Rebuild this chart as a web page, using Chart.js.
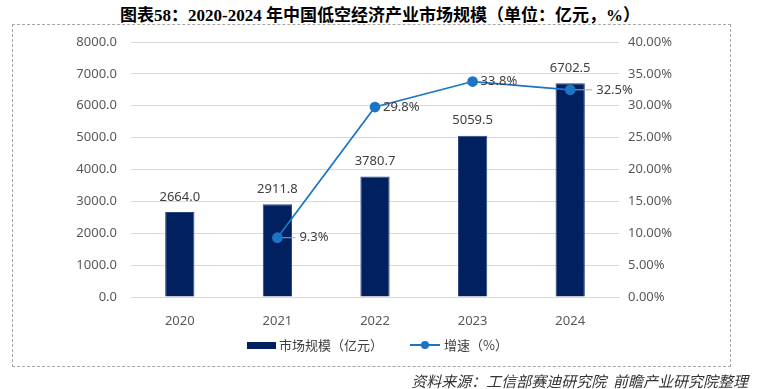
<!DOCTYPE html>
<html>
<head>
<meta charset="utf-8">
<script src="https://cdn.jsdelivr.net/npm/chart.js@4"></script>
<style>
  body { margin: 0; background: #fff; }
  #wrap { position: relative; width: 760px; height: 389px; overflow: hidden; }
  #title { position: absolute; left: 0; top: 1px; width: 760px; text-align: center;
    font: bold 17px "Liberation Serif", "Noto Sans CJK SC", serif; color: #000; }
  #frame { position: absolute; left: 12px; top: 24px; width: 719px; height: 343px;
    border: 1px dashed #a6a6a6; box-sizing: border-box; }
  #source { position: absolute; right: 12px; top: 370px;
    font: italic 15px "Noto Sans CJK SC", sans-serif; color: #333; }
  canvas { position: absolute; left: 0; top: 0; }
</style>
</head>
<body>
<div id="wrap">
  <div id="title">图表58：2020-2024 年中国低空经济产业市场规模（单位：亿元，%）</div>
  <div id="frame"></div>
  <canvas id="chart" width="760" height="389"></canvas>
  <div id="source">资料来源：工信部赛迪研究院&nbsp; 前瞻产业研究院整理</div>
</div>
<script>
const years = ["2020", "2021", "2022", "2023", "2024"];
const marketSize = [2664.0, 2911.8, 3780.7, 5059.5, 6702.5];
const growth = [null, 9.3, 29.8, 33.8, 32.5];
const leftTicks = [0, 1000, 2000, 3000, 4000, 5000, 6000, 7000, 8000];
const rightTicks = [0, 5, 10, 15, 20, 25, 30, 35, 40];

const barColor = "#002060";
const lineColor = "#1b75c4";
const tickFont = { family: "'Noto Sans', 'Noto Sans CJK SC', sans-serif", size: 13 };
const growthLabelDx = [0, 22, 8, 8, 26];

const labelPlugin = {
  id: "labels",
  afterDatasetsDraw(chart) {
    const ctx = chart.ctx;
    ctx.save();
    ctx.font = "13px 'Noto Sans', sans-serif";
    ctx.fillStyle = "#404040";

    // bar values
    chart.getDatasetMeta(0).data.forEach((bar, i) => {
      ctx.textAlign = "center";
      ctx.textBaseline = "middle";
      ctx.fillText(marketSize[i].toFixed(1), bar.x, bar.y - 15);
    });

    // growth values
    chart.getDatasetMeta(1).data.forEach((pt, i) => {
      if (growth[i] == null) return;
      const dx = growthLabelDx[i];
      if (dx > 12) {
        ctx.strokeStyle = "#a6a6a6";
        ctx.lineWidth = 1;
        ctx.beginPath();
        ctx.moveTo(pt.x + 5, pt.y);
        ctx.lineTo(pt.x + dx - 4, pt.y);
        ctx.stroke();
      }
      ctx.textAlign = "left";
      ctx.textBaseline = "middle";
      ctx.fillText(growth[i].toFixed(1) + "%", pt.x + dx, pt.y);
    });

    // legend
    const ly = 345;
    ctx.fillStyle = barColor;
    ctx.fillRect(247, ly - 3, 29, 7);
    ctx.fillStyle = "#404040";
    ctx.font = "13px 'Noto Sans CJK SC', sans-serif";
    ctx.textAlign = "left";
    ctx.fillText("市场规模（亿元）", 279, ly);
    ctx.strokeStyle = lineColor;
    ctx.lineWidth = 2;
    ctx.beginPath();
    ctx.moveTo(410, ly);
    ctx.lineTo(440, ly);
    ctx.stroke();
    ctx.fillStyle = lineColor;
    ctx.beginPath();
    ctx.arc(425, ly, 4, 0, Math.PI * 2);
    ctx.fill();
    ctx.fillStyle = "#404040";
    ctx.fillText("增速（%）", 444, ly);
    ctx.restore();
  }
};

new Chart(document.getElementById("chart"), {
  data: {
    labels: years,
    datasets: [
      {
        type: "bar",
        label: "市场规模（亿元）",
        data: marketSize,
        backgroundColor: barColor,
        borderColor: "#2a4580",
        borderWidth: 1,
        barPercentage: 0.6,
        categoryPercentage: 0.5,
        yAxisID: "y",
        order: 2
      },
      {
        type: "line",
        label: "增速（%）",
        data: growth,
        borderColor: lineColor,
        borderWidth: 1.75,
        pointBackgroundColor: lineColor,
        pointBorderColor: lineColor,
        pointRadius: 4.5,
        tension: 0,
        yAxisID: "y1",
        order: 1
      }
    ]
  },
  options: {
    responsive: false,
    animation: false,
    layout: { padding: { top: 42, left: 0, right: 0, bottom: 0 } },
    plugins: { legend: { display: false }, title: { display: false }, tooltip: { enabled: false } },
    scales: {
      x: {
        grid: { display: false },
        border: { color: "#d9d9d9" },
        ticks: { color: "#595959", font: tickFont, padding: 8 },
        afterFit: s => { s.height = 92; }
      },
      y: {
        position: "left",
        min: 0,
        max: 8000,
        afterBuildTicks: s => { s.ticks = leftTicks.map(v => ({ value: v })); },
        grid: { color: "#d9d9d9", drawTicks: false },
        border: { display: false },
        ticks: { color: "#595959", font: tickFont, padding: 14, callback: v => v.toFixed(1) },
        afterFit: s => { s.width = 131; }
      },
      y1: {
        position: "right",
        min: 0,
        max: 40,
        afterBuildTicks: s => { s.ticks = rightTicks.map(v => ({ value: v })); },
        grid: { display: false, drawTicks: false },
        border: { display: false },
        ticks: { color: "#595959", font: tickFont, padding: 9, callback: v => v.toFixed(2) + "%" },
        afterFit: s => { s.width = 141; }
      }
    }
  },
  plugins: [labelPlugin]
});
</script>
</body>
</html>
